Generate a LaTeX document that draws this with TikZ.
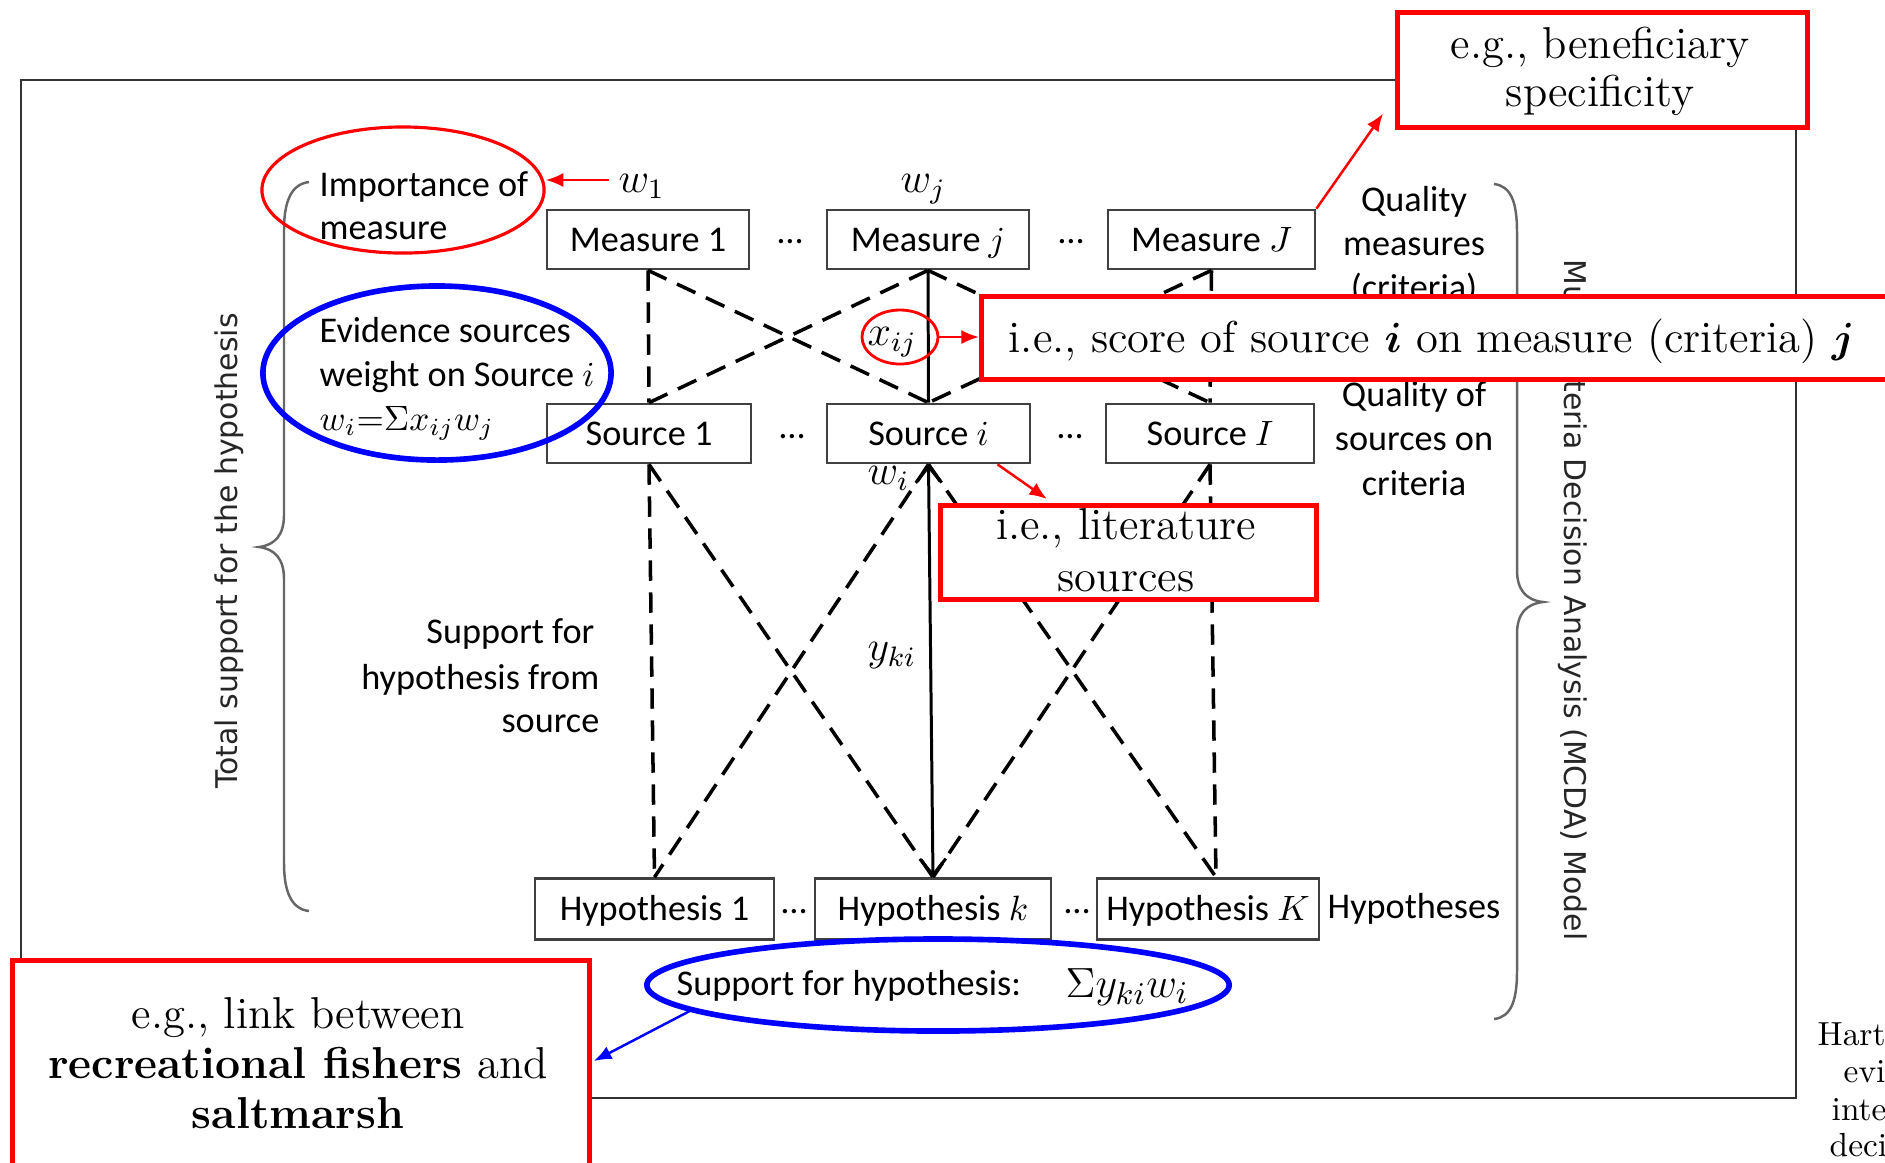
\documentclass[tikz,border=0pt]{standalone}
\usepackage{bm}
\usepackage{fontspec}
\newfontfamily\calfont{Carlito}
\newfontfamily\dvsfont{DejaVu Sans}
\usetikzlibrary{arrows.meta,shapes.geometric,calc}
\tikzset{
 mbox/.style={draw=black!75, line width=0.75pt, fill=white, inner sep=0pt, minimum height=0.59cm, text height=6.8pt, text depth=0pt, font=\calfont\fontsize{10.3}{12}\selectfont},
 dl/.style={line width=1pt, dash pattern=on 5.8pt off 3.3pt},
 sl/.style={line width=0.85pt},
 lbl/.style={inner sep=0pt, font=\calfont\fontsize{10.3}{12}\selectfont},
 mlbl/.style={inner sep=0pt, font=\fontsize{12}{14}\selectfont},
 callout/.style={draw=red, line width=1.3pt, fill=white, inner sep=0pt},
 ctext/.style={inner sep=0pt, font=\fontsize{12.7}{14.2}\selectfont},
 redarr/.style={draw=red, line width=0.7pt, -{Latex[length=5pt,width=4pt]}},
 bluearr/.style={draw=blue, line width=0.7pt, -{Latex[length=5pt,width=4pt]}},
 bracestyle/.style={draw=black!60, line width=0.7pt},
 rot/.style={inner sep=0pt, text=black!85, font=\dvsfont\fontsize{8.5}{10}\selectfont},
 dotsn/.style={inner sep=0pt, font=\calfont\fontsize{10.3}{12}\selectfont},
 barb/.style={{Straight Barb[length=1.6mm,width=2.6mm]}-{Straight Barb[length=1.6mm,width=2.6mm]}},
}
\begin{document}
\begin{tikzpicture}[x=0.01cm,y=-0.01cm]
\useasboundingbox (0,0) rectangle (1885,1162);
\clip (0,0) rectangle (1885,1162);
\fill[white] (0,0) rectangle (1885,1162);
% frame
\node[draw=black!80, line width=0.6pt, minimum width=17.74cm, minimum height=10.17cm, inner sep=0pt, anchor=north west] (frame) at (20,79) {};
% braces
\draw[bracestyle] (309,182) .. controls (292,184) and (284,200) .. (284,230) -- (284,515) .. controls (284,535) and (275,545) .. (259,547) .. controls (275,549) and (284,559) .. (284,579) -- (284,863) .. controls (284,893) and (292,909) .. (309,911);
\draw[bracestyle] (1494,184) .. controls (1511,186) and (1517,202) .. (1517,232) -- (1517,570) .. controls (1517,590) and (1526,600) .. (1543,602) .. controls (1526,604) and (1517,614) .. (1517,634) -- (1517,971) .. controls (1517,1001) and (1511,1017) .. (1494,1019);
% rotated texts
\node[rot, rotate=90] (total) at (229,551) {Total support for the hypothesis};
\node[rot, rotate=-90] (mcda) at (1573,600) {Multi-criteria Decision Analysis (MCDA) Model};
% boxes
\node[mbox, minimum width=2.02cm] (M1) at (648,239.5) {Measure 1};
\node[mbox, minimum width=2.02cm] (Mj) at (928,239.5) {Measure $j$};
\node[mbox, minimum width=2.07cm] (MJ) at (1211.5,239.5) {Measure $J$};
\node[mbox, minimum width=2.04cm] (S1) at (649,433.5) {Source 1};
\node[mbox, minimum width=2.03cm] (Si) at (928.5,433.5) {Source $i$};
\node[mbox, minimum width=2.08cm] (SI) at (1210,433.5) {Source $I$};
\node[mbox, minimum width=2.39cm, minimum height=0.61cm] (H1) at (654.5,909) {Hypothesis 1};
\node[mbox, minimum width=2.36cm, minimum height=0.61cm] (Hk) at (933,909) {Hypothesis $k$};
\node[mbox, minimum width=2.22cm, minimum height=0.61cm] (HK) at (1208,909) {Hypothesis $K$};
% connectors: measures to sources
\draw[dl] (M1.south) -- (S1.north);
\draw[dl] (M1.south) -- (Si.north);
\draw[dl] (S1.north) -- (Mj.south);
\draw[sl] (Mj.south) -- (Si.north);
\draw[dl] (Mj.south) -- (SI.north);
\draw[dl] (MJ.south) -- (Si.north);
\draw[dl] (MJ.south) -- (SI.north);
% connectors: sources to hypotheses
\draw[dl] (S1.south) -- (H1.north);
\draw[dl] (S1.south) -- (Hk.north);
\draw[dl] (Si.south) -- (H1.north);
\draw[sl, barb] (Si.south) -- (Hk.north);
\draw[dl] (Si.south) -- ($(HK.north)+(8,0)$);
\draw[dl] (SI.south) -- (Hk.north);
\draw[dl] (SI.south) -- ($(HK.north)+(8,0)$);
% dots
\node[dotsn] (d1) at (790,242) {…};
\node[dotsn] (d2) at (1071,242) {…};
\node[dotsn] (d3) at (792,437) {…};
\node[dotsn] (d4) at (1070,437) {…};
\node[dotsn] (d5) at (794,912) {…};
\node[dotsn] (d6) at (1077,912) {…};
% math labels
\node[mlbl, anchor=base west] (w1) at (618,192) {$w_1$};
\node[mlbl, anchor=base west] (wj) at (900,192) {$w_j$};
\node[mlbl, anchor=base west] (xij) at (867,345) {$x_{ij}$};
\node[mlbl, anchor=base west] (wi) at (867,484) {$w_i$};
\node[mlbl, anchor=base west] (yki) at (867,660) {$y_{ki}$};
% text labels
\node[lbl, anchor=base west] (imp1) at (319,196) {Importance of};
\node[lbl, anchor=base west] (imp2) at (319,239) {measure};
\node[lbl, anchor=base west] (ev1) at (319,342) {Evidence sources};
\node[lbl, anchor=base west] (ev2) at (319,386) {weight on Source $i$};
\node[lbl, anchor=base west] (ev3) at (319,430) {$w_i{=}\Sigma x_{ij}w_j$};
\node[lbl, anchor=base] (q1) at (1414,211) {Quality};
\node[lbl, anchor=base] (q2) at (1414,255) {measures};
\node[lbl, anchor=base] (q3) at (1414,299) {(criteria)};
\node[lbl, anchor=base] (qs1) at (1414,406) {Quality of};
\node[lbl, anchor=base] (qs2) at (1414,450) {sources on};
\node[lbl, anchor=base] (qs3) at (1414,495) {criteria};
\node[lbl, anchor=base east] (sp1) at (595,643) {Support for};
\node[lbl, anchor=base east] (sp2) at (600,689) {hypothesis from};
\node[lbl, anchor=base east] (sp3) at (600,732) {source};
\node[lbl, anchor=base west] (hyps) at (1327,918) {Hypotheses};
\node[lbl, anchor=base west] (suptxt) at (676,995) {Support for hypothesis:};
\node[inner sep=0pt, anchor=base west, font=\fontsize{13}{15}\selectfont] (supmath) at (1065,997) {$\Sigma y_{ki}w_i$};
% ellipses
\node[draw=red, line width=0.9pt, ellipse, minimum width=2.82cm, minimum height=1.26cm, inner sep=0pt] (impell) at (403,190) {};
\node[draw=blue, line width=1.6pt, ellipse, minimum width=3.48cm, minimum height=1.74cm, inner sep=0pt] (evell) at (437,373) {};
\node[draw=red, line width=0.8pt, ellipse, minimum width=0.76cm, minimum height=0.54cm, inner sep=0pt] (xell) at (900,337) {};
\node[draw=blue, line width=1.6pt, ellipse, minimum width=5.82cm, minimum height=0.92cm, inner sep=0pt] (supell) at (938,985) {};
% callouts
\node[callout, minimum width=4.10cm, minimum height=1.15cm, anchor=north west] (benef) at (1395,10) {};
\node[ctext, anchor=base] (benef1) at (1600,58) {e.g., beneficiary};
\node[ctext, anchor=base] (benef2) at (1600,106) {specificity};
\node[callout, minimum width=9.3cm, minimum height=0.83cm, anchor=north west] (score) at (979,294) {};
\node[ctext, anchor=base west] (scoretxt) at (1008,352) {i.e., score of source $\bm{i}$ on measure (criteria) $\bm{j}$};
\node[callout, minimum width=3.76cm, minimum height=0.94cm, anchor=north west] (lit) at (938,503) {};
\node[ctext, anchor=base] (lit1) at (1126,539) {i.e., literature};
\node[ctext, anchor=base] (lit2) at (1126,591) {sources};
\node[callout, minimum width=5.77cm, minimum height=2.5cm, anchor=north west] (link) at (10,958) {};
\node[ctext, anchor=base] (link1) at (298,1028) {e.g., link between};
\node[ctext, anchor=base] (link2) at (298,1078) {\textbf{recreational fishers} and};
\node[ctext, anchor=base] (link3) at (298,1128) {\textbf{saltmarsh}};
% arrows
\coordinate (a1s) at (609,180);
\draw[redarr] (a1s) -- (a1s -| impell.east);
\draw[redarr] (MJ.north east) -- ($(benef.south west)+(-12,-16)$);
\draw[redarr] (xell.east) -- (xell.east -| score.west);
\draw[redarr] ($(Si.south)+(69,0)$) -- ($(lit.north west)+(109,-4)$);
\draw[bluearr] (supell.186) -- ($(link.north east)+(2,103)$);
% cut-off side text
\node[inner sep=0pt, anchor=base west, font=\fontsize{9.5}{11}\selectfont] (hart1) at (1817,1045) {Hart};
\node[inner sep=0pt, anchor=base west, font=\fontsize{9.5}{11}\selectfont] (hart2) at (1843,1082) {evi};
\node[inner sep=0pt, anchor=base west, font=\fontsize{9.5}{11}\selectfont] (hart3) at (1831,1120) {inte};
\node[inner sep=0pt, anchor=base west, font=\fontsize{9.5}{11}\selectfont] (hart4) at (1829,1156) {deci};
\end{tikzpicture}
\end{document}
